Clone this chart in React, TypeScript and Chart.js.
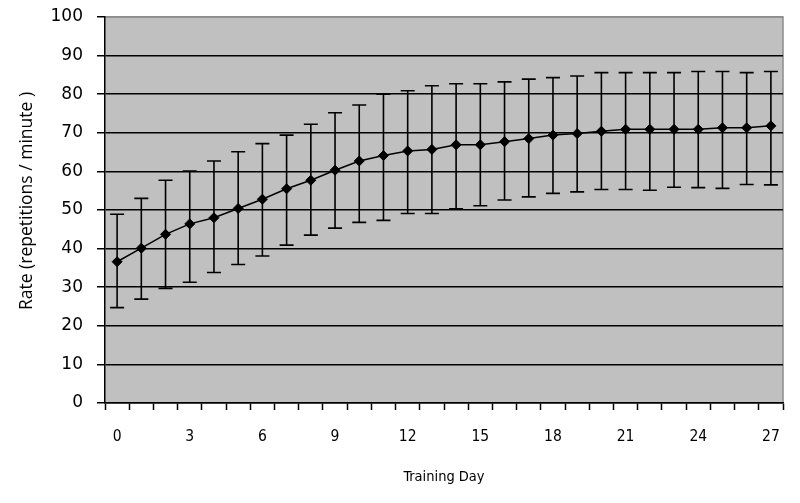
import React, { useEffect, useRef } from "react";
import { Chart, registerables } from "chart.js";

Chart.register(...registerables);

const days = ["0","1","2","3","4","5","6","7","8","9","10","11","12","13","14","15","16","17","18","19","20","21","22","23","24","25","26","27"];
const rate = [36.6, 40.1, 43.7, 46.4, 48.0, 50.4, 52.8, 55.5, 57.7, 60.3, 62.7, 64.1, 65.3, 65.7, 66.9, 66.9, 67.7, 68.5, 69.4, 69.8, 70.4, 70.9, 70.9, 70.9, 70.9, 71.3, 71.3, 71.8];
const upper = [48.9, 53.0, 57.7, 60.1, 62.7, 65.1, 67.2, 69.4, 72.2, 75.2, 77.2, 80.0, 80.9, 82.2, 82.7, 82.7, 83.2, 83.9, 84.3, 84.7, 85.6, 85.6, 85.6, 85.6, 85.9, 85.9, 85.6, 85.9];
const lower = [24.7, 26.9, 29.7, 31.3, 33.8, 35.9, 38.1, 40.9, 43.5, 45.3, 46.8, 47.3, 49.1, 49.1, 50.3, 51.1, 52.6, 53.4, 54.3, 54.7, 55.3, 55.3, 55.1, 55.9, 55.8, 55.6, 56.6, 56.5];

const xTitle = "Training Day";
const yTitle = "Rate (repetitions / minute )";

const xFont = "'DejaVu Sans Condensed', 'DejaVu Sans', sans-serif";

const bgPlugin = {
  id: "plotBg",
  beforeDraw(chart: any) {
    const { ctx, chartArea } = chart;
    const { left, top, right, bottom } = chartArea;
    ctx.save();
    ctx.fillStyle = "#c0c0c0";
    ctx.fillRect(left, top, right - left, bottom - top);
    ctx.strokeStyle = "#8c8c8c";
    ctx.lineWidth = 1.5;
    ctx.beginPath();
    ctx.moveTo(left, top);
    ctx.lineTo(right, top);
    ctx.lineTo(right, bottom);
    ctx.stroke();
    ctx.restore();
  },
};

const errPlugin = {
  id: "errBars",
  beforeDatasetsDraw(chart: any) {
    const { ctx } = chart;
    const xs = chart.scales.x;
    const ys = chart.scales.y;
    ctx.save();
    ctx.strokeStyle = "#000";
    ctx.lineWidth = 1.6;
    for (let i = 0; i < rate.length; i++) {
      const px = xs.getPixelForValue(i);
      const yh = ys.getPixelForValue(upper[i]);
      const yl = ys.getPixelForValue(lower[i]);
      ctx.beginPath();
      ctx.moveTo(px, yh);
      ctx.lineTo(px, yl);
      ctx.moveTo(px - 7, yh);
      ctx.lineTo(px + 7, yh);
      ctx.moveTo(px - 7, yl);
      ctx.lineTo(px + 7, yl);
      ctx.stroke();
    }
    ctx.restore();
  },
};

const yTitlePlugin = {
  id: "yTitle",
  afterDraw(chart: any) {
    const { ctx } = chart;
    ctx.save();
    ctx.translate(27, 201);
    ctx.rotate(-Math.PI / 2);
    ctx.fillStyle = "#000";
    ctx.font = "17.5px 'Open Sans', sans-serif";
    ctx.textAlign = "center";
    ctx.textBaseline = "middle";
    ctx.fillText(yTitle, 0, 0);
    ctx.restore();
  },
};

export default function App() {
  const ref = useRef<HTMLCanvasElement | null>(null);
  useEffect(() => {
    if (!ref.current) return;
    const chart = new Chart(ref.current, {
      type: "line",
      data: {
        labels: days,
        datasets: [
          {
            data: rate,
            borderColor: "#000",
            borderWidth: 1.5,
            backgroundColor: "#000",
            pointStyle: "rectRot",
            pointRadius: 5,
            pointBorderWidth: 1,
            pointBackgroundColor: "#000",
            pointBorderColor: "#000",
            tension: 0,
          },
        ],
      },
      options: {
        animation: false,
        responsive: false,
        layout: { padding: { top: 17, right: 17, bottom: 0, left: 0 } },
        plugins: { legend: { display: false }, tooltip: { enabled: false } },
        scales: {
          x: {
            type: "category",
            offset: true,
            grid: {
              offset: true,
              drawOnChartArea: false,
              drawTicks: true,
              tickLength: 7,
              tickColor: "#000",
              tickWidth: 1.5,
            },
            border: { color: "#000", width: 1.5 },
            ticks: {
              autoSkip: false,
              maxRotation: 0,
              padding: 18,
              color: "#000",
              font: { family: xFont, size: 15.5 },
              callback: (_v: any, i: number) => (i % 3 === 0 ? days[i] : ""),
            },
            title: {
              display: true,
              text: xTitle,
              color: "#000",
              font: { family: xFont, size: 14.5 },
              padding: { top: 0, bottom: 17 },
            },
            afterFit: (s: any) => {
              s.height = 100;
              s.paddingLeft = 0;
              s.paddingRight = 0;
            },
          },
          y: {
            min: 0,
            max: 100,
            ticks: {
              stepSize: 10,
              padding: 14,
              color: "#000",
              font: { family: "'DejaVu Sans', sans-serif", size: 17 },
            },
            grid: {
              color: (c: any) => (c.tick && c.tick.value === 100 ? "#8c8c8c" : "#000"),
              lineWidth: 1.5,
              tickLength: 8,
              tickColor: "#000",
              tickWidth: 1.5,
            },
            border: { color: "#000", width: 1.5 },
            afterFit: (s: any) => {
              s.width = 105;
              s.paddingTop = 0;
              s.paddingBottom = 0;
            },
          },
        },
      },
      plugins: [bgPlugin, errPlugin, yTitlePlugin],
    });
    return () => chart.destroy();
  }, []);
  return (
    <div style={{ position: "fixed", left: 0, top: 0, width: 800, height: 503, background: "#fff" }}>
      <canvas ref={ref} width={800} height={503} />
    </div>
  );
}
